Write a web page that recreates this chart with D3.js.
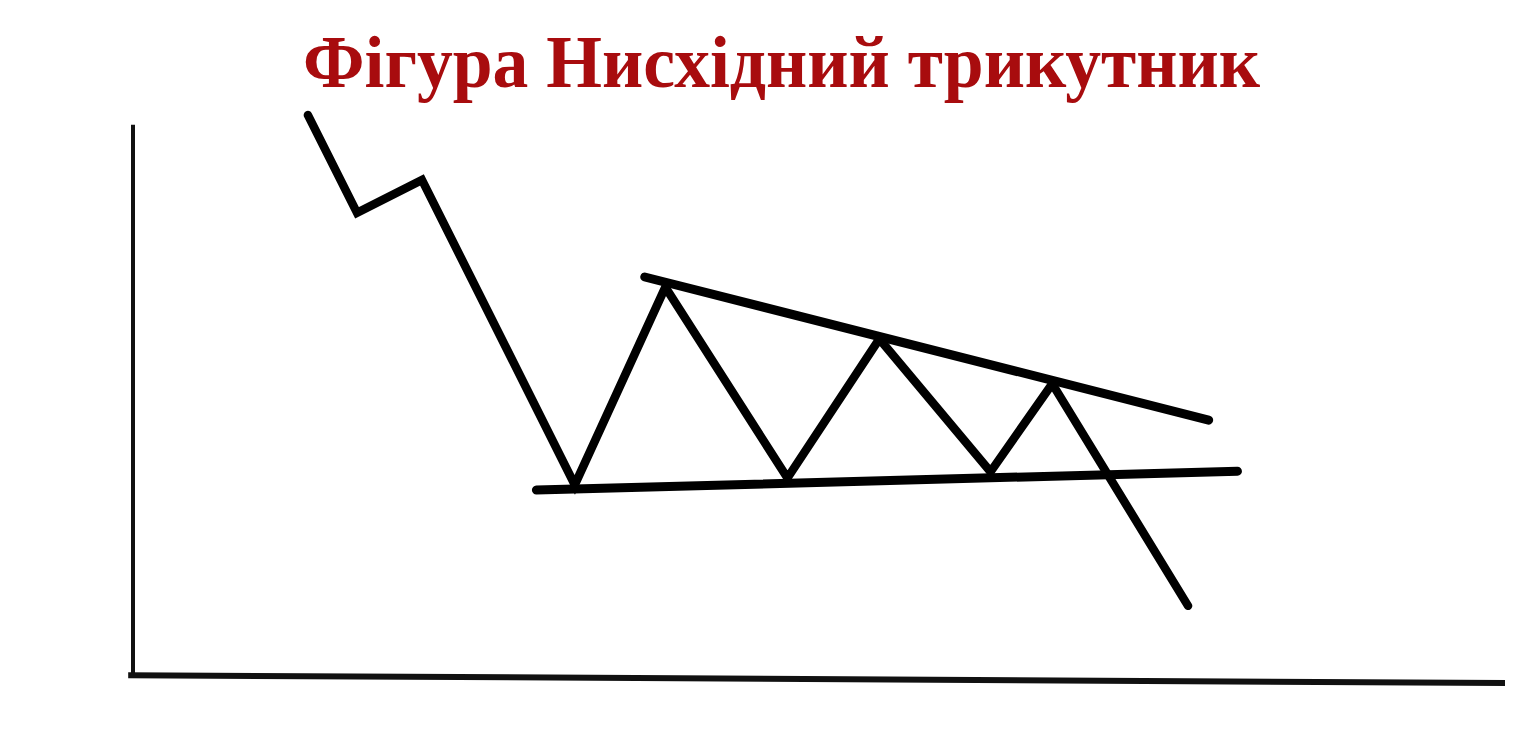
<!DOCTYPE html>
<html>
<head>
<meta charset="utf-8">
<script src="https://cdn.jsdelivr.net/npm/d3@7"></script>
<style>
  body { margin: 0; background: #fff; }
  svg { display: block; }
</style>
</head>
<body>
<div id="chart"></div>
<script>
// title
const title = 'Фігура Нисхідний трикутник';

// price path (time step, price)
const pathT = [12.75, 16.33, 21.06, 32.2, 38.8, 47.7, 54.4, 62.5, 67.0, 76.9];
const pathV = [99.1, 81.9, 87.7, 34.0, 68.8, 35.2, 59.7, 36.3, 51.8, 12.7];

// falling resistance line and flat support line
const upperT = [37.3, 78.4];
const upperV = [70.6, 45.4];
const lowerT = [29.4, 80.5];
const lowerV = [33.1, 36.4];

// axis lines
const yAxisT = [0, 0];
const yAxisV = [0, 97.4];
const xAxisT = [-0.35, 100];
const xAxisV = [0.5, -0.9];

const width = 1523, height = 736;

const x = d3.scaleLinear().domain([0, 100]).range([133, 1505]);
const y = d3.scaleLinear().domain([0, 100]).range([678, 110]);

const line = d3.line()
  .x(d => x(d[0]))
  .y(d => y(d[1]));

const zip = (a, b) => a.map((v, i) => [v, b[i]]);

const svg = d3.select('#chart')
  .append('svg')
    .attr('width', width)
    .attr('height', height);

svg.append('text')
    .attr('x', 303)
    .attr('y', 87)
    .attr('textLength', 957)
    .attr('lengthAdjust', 'spacingAndGlyphs')
    .style('font-family', '"Liberation Serif", "Times New Roman", serif')
    .style('font-weight', 'bold')
    .style('font-size', '74px')
    .style('fill', '#a80c0e')
    .text(title);

svg.append('path')
    .attr('d', line(zip(yAxisT, yAxisV)))
    .attr('fill', 'none')
    .attr('stroke', '#111')
    .attr('stroke-width', 4);

svg.append('path')
    .attr('d', line(zip(xAxisT, xAxisV)))
    .attr('fill', 'none')
    .attr('stroke', '#111')
    .attr('stroke-width', 6);

[[upperT, upperV], [lowerT, lowerV]].forEach(([t, v]) => {
  svg.append('path')
      .attr('d', line(zip(t, v)))
      .attr('fill', 'none')
      .attr('stroke', '#000')
      .attr('stroke-width', 9)
      .attr('stroke-linecap', 'round');
});

svg.append('path')
    .attr('d', line(zip(pathT, pathV)))
    .attr('fill', 'none')
    .attr('stroke', '#000')
    .attr('stroke-width', 8.5)
    .attr('stroke-linecap', 'round')
    .attr('stroke-linejoin', 'miter');
</script>
</body>
</html>
